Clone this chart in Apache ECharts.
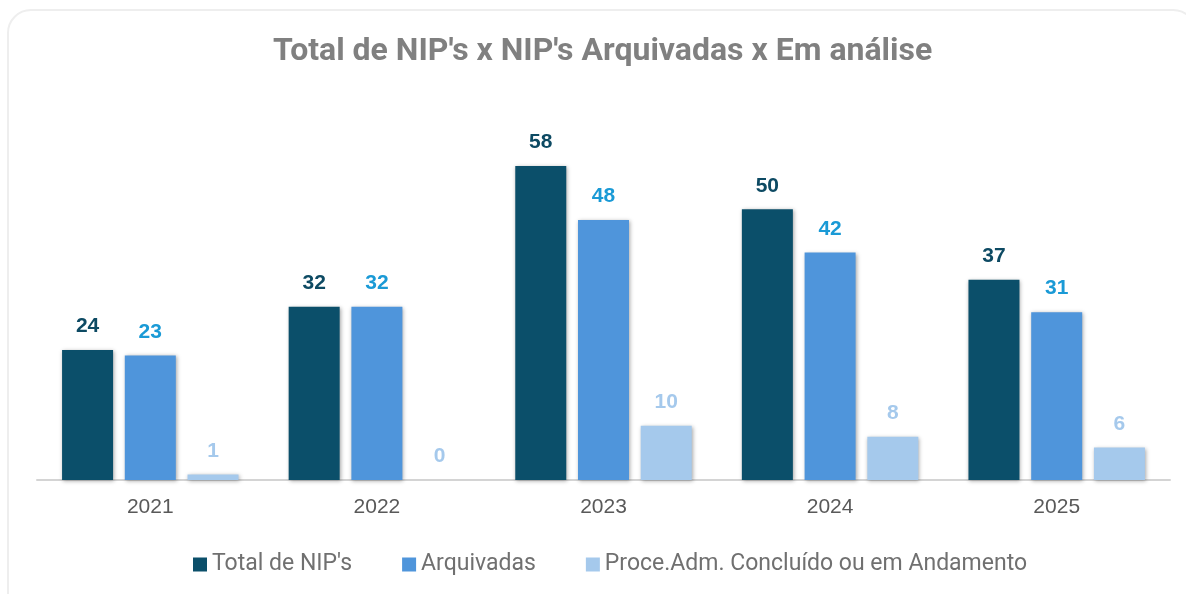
<!DOCTYPE html>
<html>
<head>
<meta charset="utf-8">
<script src="https://cdn.jsdelivr.net/npm/echarts@6/dist/echarts.min.js"></script>
<style>
  html, body { margin: 0; padding: 0; background: #fff; }
  .card {
    position: absolute; left: 7px; top: 9px; width: 1190px; height: 610px;
    border: 2px solid #eeeeee; border-radius: 24px; box-sizing: border-box;
  }
  .nip-chart { position: absolute; left: 0; top: 0; width: 1186px; height: 594px; }
</style>
</head>
<body>
<div class="card"></div>
<div class="nip-chart"></div>
<script>
// dados
const anos = ['2021', '2022', '2023', '2024', '2025']
const totalNips = [24, 32, 58, 50, 37]
const arquivadas = [23, 32, 48, 42, 31]
const emAndamento = [1, 0, 10, 8, 6]

const barShadow = {
  shadowBlur: 4,
  shadowColor: 'rgba(0, 0, 0, 0.35)',
  shadowOffsetX: 1,
  shadowOffsetY: 1
}

function makeSeries(name, data, color, labelColor) {
  return {
    name: name,
    type: 'bar',
    data: data,
    barWidth: 51,
    barGap: '23%',
    itemStyle: Object.assign({ color: color }, barShadow),
    label: {
      show: true,
      position: 'top',
      distance: 13,
      color: labelColor,
      fontSize: 21,
      fontWeight: 'bold',
      fontFamily: 'Liberation Sans, Arial, sans-serif'
    }
  }
}

var myChart = echarts.init(document.querySelector('.nip-chart'))
const option = {
  animation: false,
  title: {
    text: "Total de NIP's x NIP's Arquivadas x Em análise",
    left: 268,
    top: 31,
    textStyle: {
      color: '#808080',
      fontSize: 32,
      fontWeight: 'bold',
      fontFamily: 'Roboto, sans-serif'
    }
  },
  legend: {
    bottom: 13,
    left: 188,
    itemWidth: 14,
    itemHeight: 14,
    itemGap: 50,
    icon: 'rect',
    textStyle: {
      color: '#707070',
      fontSize: 23,
      fontFamily: 'Roboto, sans-serif'
    },
    data: ["Total de NIP's", 'Arquivadas', 'Proce.Adm. Concluído ou em Andamento']
  },
  grid: {
    left: 37,
    right: 16,
    top: 101,
    bottom: 114
  },
  xAxis: {
    type: 'category',
    data: anos,
    axisTick: { show: false },
    axisLine: { lineStyle: { color: '#d4d4d4', width: 2 } },
    axisLabel: {
      color: '#595959',
      fontSize: 21,
      margin: 17,
      fontFamily: 'Liberation Sans, Arial, sans-serif'
    }
  },
  yAxis: {
    type: 'value',
    min: 0,
    max: 70,
    show: false,
    splitLine: { show: false }
  },
  series: [
    makeSeries("Total de NIP's", totalNips, '#0b4f6a', '#0d4a63'),
    makeSeries('Arquivadas', arquivadas, '#4f95db', '#1a9ad6'),
    makeSeries('Proce.Adm. Concluído ou em Andamento', emAndamento, '#a5c9ec', '#a5c9ec')
  ]
}
myChart.setOption(option)
</script>
</body>
</html>
